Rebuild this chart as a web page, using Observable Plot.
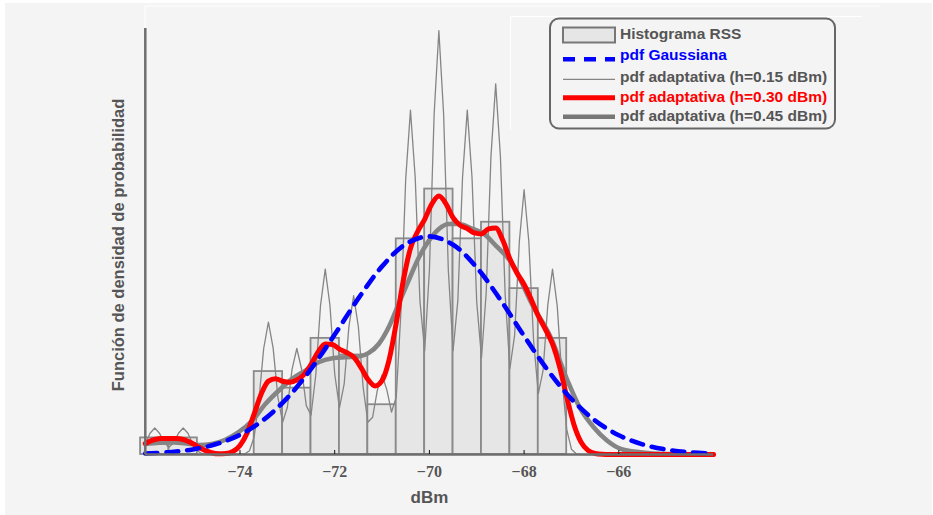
<!DOCTYPE html>
<html>
<head>
<meta charset="utf-8">
<script src="https://cdn.jsdelivr.net/npm/d3@7"></script>
<script src="https://cdn.jsdelivr.net/npm/@observablehq/plot@0.6"></script>
<style>
  html, body { margin: 0; padding: 0; background: #ffffff; }
  #wrap { position: relative; width: 933px; height: 515px; overflow: hidden; }
  #bg { position: absolute; left: 5px; top: 3px; right: 1px; bottom: 0; background: #f4f4f4; }
  #chart { position: absolute; left: 0; top: 0; }
  #overlay { position: absolute; left: 0; top: 0; pointer-events: none; }
</style>
</head>
<body>
<div id="wrap">
  <div id="bg"></div>
  <div id="chart"></div>
  <svg id="overlay" width="933" height="515"></svg>
</div>
<script>
// ---------------- data ----------------
const xTicks = [-74, -72, -70, -68, -66];
const xDomain = [-76, -64];

// histogram (RSS samples, 100 values, bin width 0.6 dBm)
const binEdges = [-76.1, -75.5, -74.9, -74.3, -73.7, -73.1, -72.5, -71.9, -71.3, -70.7, -70.1, -69.5, -68.9, -68.3, -67.7, -67.1];
const binCounts = [1, 1, 0, 0, 5, 4, 7, 6, 3, 13, 16, 13, 14, 10, 7];

// pdf Gaussiana
const gaussX = [-76, -75.5, -75, -74.5, -74, -73.5, -73, -72.5, -72, -71.5, -71, -70.5, -70, -69.5, -69, -68.5, -68, -67.5, -67, -66.5, -66, -65.5, -65, -64.5, -64];
const gaussY = [0.0010, 0.0023, 0.0051, 0.0105, 0.0198, 0.0349, 0.0569, 0.0860, 0.1205, 0.1568, 0.1890, 0.2114, 0.2192, 0.2108, 0.1879, 0.1554, 0.1191, 0.0847, 0.0558, 0.0341, 0.0194, 0.0102, 0.0050, 0.0022, 0.0009];

// pdf adaptativa h=0.15 dBm
const thinX = [-76.0, -75.9, -75.8, -75.7, -75.6, -75.5, -75.4, -75.3, -75.2, -75.1, -75.0, -74.9, -74.8, -74.7, -74.6,
  -73.9, -73.8, -73.7, -73.6, -73.5, -73.4, -73.3, -73.2, -73.1, -73.0, -72.9, -72.8, -72.7, -72.6, -72.5,
  -72.4, -72.3, -72.2, -72.1, -72.0, -71.9, -71.8, -71.7, -71.6, -71.5, -71.4, -71.3, -71.2, -71.1, -71.0,
  -70.9, -70.8, -70.7, -70.6, -70.5, -70.4, -70.3, -70.2, -70.1, -70.0, -69.9, -69.8, -69.7, -69.6, -69.5,
  -69.4, -69.3, -69.2, -69.1, -69.0, -68.9, -68.8, -68.7, -68.6, -68.5, -68.4, -68.3, -68.2, -68.1, -68.0,
  -67.9, -67.8, -67.7, -67.6, -67.5, -67.4, -67.3, -67.2, -67.1, -67.0, -66.9, -66.8, -64.0];
const thinY = [0.0109, 0.0213, 0.0266, 0.0214, 0.0117, 0.0072, 0.0117, 0.0214, 0.0266, 0.0213, 0.0109, 0.0036, 0.0008, 0.0001, 0,
  0.0005, 0.0038, 0.0180, 0.0547, 0.1065, 0.1330, 0.1069, 0.0577, 0.0324, 0.0475, 0.0857, 0.1065, 0.0859, 0.0491, 0.0396,
  0.0796, 0.1495, 0.1862, 0.1497, 0.0811, 0.0468, 0.0709, 0.1285, 0.1596, 0.1281, 0.0679, 0.0324, 0.0374, 0.0645, 0.0799,
  0.0652, 0.0427, 0.0576, 0.1444, 0.2772, 0.3459, 0.2785, 0.1543, 0.1044, 0.1849, 0.3421, 0.4258, 0.3421, 0.1849, 0.1044,
  0.1543, 0.2785, 0.3460, 0.2783, 0.1528, 0.0972, 0.1630, 0.2995, 0.3724, 0.2992, 0.1607, 0.0864, 0.1200, 0.2144, 0.2660,
  0.2137, 0.1147, 0.0612, 0.0842, 0.1501, 0.1862, 0.1491, 0.0765, 0.0252, 0.0053, 0.0007, 0, 0];

// pdf adaptativa h=0.30 dBm
const redX = [-76.0, -75.95, -75.8, -75.65, -75.5, -75.35, -75.2, -75.05, -74.9, -74.75, -74.6, -74.45, -74.3, -74.15, -74.0,
  -73.85, -73.7, -73.55, -73.4, -73.25, -73.1, -72.95, -72.8, -72.65, -72.5, -72.35, -72.2, -72.05, -71.9, -71.75,
  -71.6, -71.45, -71.3, -71.15, -71.0, -70.85, -70.7, -70.55, -70.4, -70.25, -70.1, -69.95, -69.8, -69.65, -69.5,
  -69.35, -69.2, -69.05, -68.9, -68.75, -68.6, -68.45, -68.3, -68.15, -68.0, -67.85, -67.7, -67.55, -67.4, -67.25,
  -67.1, -66.95, -66.8, -66.65, -66.5, -66.35, -66.2, -64.0];
const redY = [0.0110, 0.0123, 0.0151, 0.0161, 0.0161, 0.0161, 0.0151, 0.0123, 0.0082, 0.0044, 0.0018, 0.0007, 0.0009, 0.0030, 0.0090,
  0.0217, 0.0409, 0.0610, 0.0737, 0.0762, 0.0736, 0.0726, 0.0748, 0.0803, 0.0903, 0.1031, 0.1111, 0.1105, 0.1059, 0.1025,
  0.0979, 0.0878, 0.0755, 0.0689, 0.0742, 0.0953, 0.1323, 0.1750, 0.2071, 0.2238, 0.2363, 0.2516, 0.2596, 0.2519, 0.2379,
  0.2302, 0.2270, 0.2226, 0.2216, 0.2267, 0.2276, 0.2153, 0.1965, 0.1823, 0.1708, 0.1558, 0.1392, 0.1257, 0.1111, 0.0880,
  0.0579, 0.0305, 0.0127, 0.0041, 0.0010, 0.0002, 0, 0];

// pdf adaptativa h=0.45 dBm
const grayX = [-76.0, -75.7, -75.4, -75.1, -74.85, -74.6, -74.31, -74.03, -73.74, -73.46, -73.18, -72.9, -72.62, -72.34, -72.05,
  -71.77, -71.49, -71.28, -71.07, -70.86, -70.65, -70.44, -70.22, -70.01, -69.8, -69.59, -69.38, -69.1, -68.85, -68.57,
  -68.3, -67.8, -67.44, -67.09, -66.81, -66.53, -66.25, -65.96, -65.54, -65.0, -64.0];
const grayY = [0.0105, 0.0118, 0.0120, 0.0108, 0.0095, 0.0105, 0.0148, 0.0224, 0.0341, 0.0509, 0.0643, 0.0760, 0.0843, 0.0927, 0.0967,
  0.0977, 0.0984, 0.1021, 0.1110, 0.1278, 0.1513, 0.1747, 0.1981, 0.2149, 0.2266, 0.2316, 0.2316, 0.2270, 0.2216, 0.2085,
  0.1950, 0.1480, 0.1178, 0.0750, 0.0458, 0.0274, 0.0140, 0.0057, 0.0023, 0.0005, 0];

const yLabel = "Función de densidad de probabilidad";
const xLabel = "dBm";
const legendLabels = ["Histograma RSS", "pdf Gaussiana", "pdf adaptativa (h=0.15 dBm)", "pdf adaptativa (h=0.30 dBm)", "pdf adaptativa (h=0.45 dBm)"];

// ---------------- build ----------------
const total = d3.sum(binCounts);
const bins = binCounts.map((c, i) => ({
  x1: binEdges[i], x2: binEdges[i + 1],
  y: c / (total * (binEdges[i + 1] - binEdges[i]))
}));
const toPts = (xs, ys) => xs.map((x, i) => ({x, y: ys[i]}));
const gauss = toPts(gaussX, gaussY);
const thin = toPts(thinX, thinY);
const red = toPts(redX, redY);
const gray = toPts(grayX, grayY);

const sans = "Liberation Sans, Arial, Helvetica, sans-serif";
const serif = "Liberation Serif, DejaVu Serif, Times New Roman, serif";

const chart = Plot.plot({
  width: 933,
  height: 515,
  marginLeft: 144.8,
  marginRight: 220,
  marginTop: 28,
  marginBottom: 61,
  style: {background: "transparent", overflow: "visible"},
  x: {domain: xDomain, axis: null},
  y: {domain: [0, 0.428], axis: null},
  marks: [
    Plot.rectY(bins, {x1: "x1", x2: "x2", y: "y", inset: 0, fill: "#e6e6e6", stroke: "#8a8a8a", strokeWidth: 1.8}),
    Plot.line(thin, {x: "x", y: "y", stroke: "#858585", strokeWidth: 1.3, curve: "linear"}),
    Plot.line(gray, {x: "x", y: "y", stroke: "#858585", strokeWidth: 4.6, curve: "monotone-x", strokeLinejoin: "round"}),
    Plot.line(red, {x: "x", y: "y", stroke: "#ff0000", strokeWidth: 5, curve: "monotone-x", strokeLinejoin: "round"}),
    Plot.line(gauss, {x: "x", y: "y", stroke: "#0000ff", strokeWidth: 4.6, curve: "catmull-rom", strokeDasharray: "12,9"}),
    Plot.ruleY([0], {stroke: "#6e6e6e", strokeWidth: 2.5}),
    Plot.ruleX([xDomain[0]], {stroke: "#6e6e6e", strokeWidth: 2.5}),
    Plot.axisX({ticks: xTicks, tickSize: 4, dy: -4, fill: "none", stroke: "#111", strokeWidth: 1, label: null, tickFormat: () => ""}),
    Plot.axisX({ticks: xTicks, tickSize: 0, tickPadding: 11, label: null,
      tickFormat: d => (d < 0 ? "\u2212" : "") + Math.abs(d),
      fontSize: 16, fontFamily: serif, fontWeight: "bold", fill: "#555"}),
    Plot.text([xLabel], {frameAnchor: "bottom", dy: 48, fontSize: 17, fontWeight: "bold", fontFamily: sans, fill: "#555"}),
    Plot.text([yLabel], {frameAnchor: "left", textAnchor: "middle", rotate: -90, dx: -27, dy: 3.5, fontSize: 16.5, fontWeight: "bold", fontFamily: sans, fill: "#555"})
  ]
});
document.getElementById("chart").appendChild(chart);

// ---------------- legend & frame decorations ----------------
const ov = d3.select("#overlay");
// faint white box lines of the figure
ov.append("path").attr("d", "M145,28V6H880").attr("stroke", "#ffffff").attr("stroke-width", 1).attr("fill", "none");
ov.append("path").attr("d", "M510.5,130V16.5H862").attr("stroke", "#ffffff").attr("stroke-width", 1).attr("fill", "none");

const lg = ov.append("g");
lg.append("rect").attr("x", 550).attr("y", 18.5).attr("width", 285).attr("height", 110).attr("rx", 9)
  .attr("fill", "#f4f4f4").attr("stroke", "#666").attr("stroke-width", 2);
const sx0 = 563, sx1 = 615, tx = 620;
const rowText = [39.2, 60.2, 81.8, 101.6, 121];
const colors = ["#555", "#0000ff", "#555", "#ff0000", "#555"];
lg.append("rect").attr("x", sx0).attr("y", 27.5).attr("width", sx1 - sx0).attr("height", 15)
  .attr("fill", "#e6e6e6").attr("stroke", "#777").attr("stroke-width", 2);
lg.append("line").attr("x1", sx0).attr("x2", sx1).attr("y1", 59.3).attr("y2", 59.3)
  .attr("stroke", "#0000ff").attr("stroke-width", 4.6).attr("stroke-dasharray", "12,9");
lg.append("line").attr("x1", sx0).attr("x2", sx1).attr("y1", 79.3).attr("y2", 79.3)
  .attr("stroke", "#858585").attr("stroke-width", 1.3);
lg.append("line").attr("x1", sx0).attr("x2", sx1).attr("y1", 97.8).attr("y2", 97.8)
  .attr("stroke", "#ff0000").attr("stroke-width", 5);
lg.append("line").attr("x1", sx0).attr("x2", sx1).attr("y1", 116.7).attr("y2", 116.7)
  .attr("stroke", "#777").attr("stroke-width", 4.6);
legendLabels.forEach((t, i) => {
  lg.append("text").attr("x", tx).attr("y", rowText[i]).text(t)
    .attr("font-family", sans).attr("font-weight", "bold").attr("font-size", 15.5).attr("fill", colors[i]);
});
</script>
</body>
</html>
